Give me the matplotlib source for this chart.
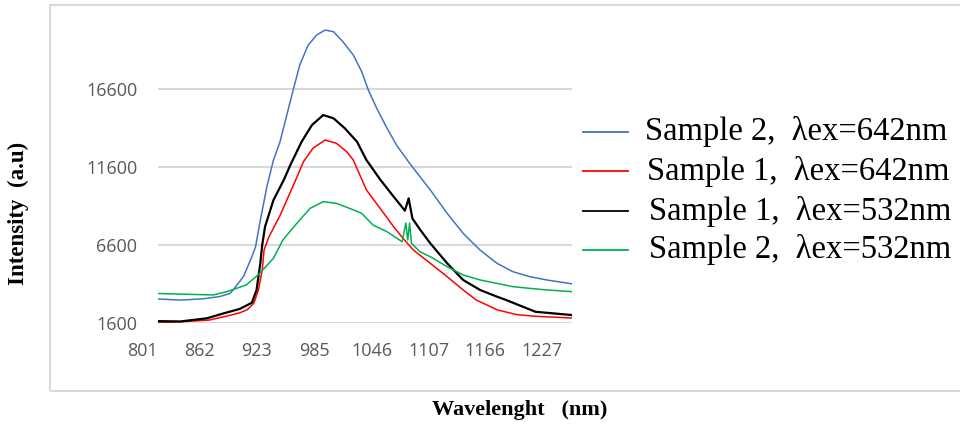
import matplotlib
matplotlib.use("Agg")
import matplotlib.pyplot as plt
from matplotlib.lines import Line2D

# ---- data ----
blue_nm = [818, 842, 866, 884, 895, 909, 918, 922, 927, 934, 941, 948, 957, 962, 969, 978, 987,
           996, 1005, 1015, 1026, 1035, 1042, 1051, 1062, 1072, 1086, 1108, 1126, 1143, 1161,
           1179, 1196, 1214, 1232, 1259]
blue_int = [3140, 3070, 3150, 3300, 3500, 4570, 5850, 6500, 8200, 10340, 12050, 13220, 15360,
            16540, 18140, 19420, 20060, 20380, 20270, 19630, 18780, 17710, 16540, 15360, 14080,
            13010, 11840, 10130, 8630, 7350, 6280, 5430, 4890, 4570, 4360, 4110]

red_nm = [818, 842, 873, 895, 905, 913, 920, 925, 929, 931, 936, 948, 962, 973, 983, 996, 1008,
          1019, 1026, 1040, 1054, 1069, 1079, 1090, 1108, 1126, 1143, 1157, 1180, 1200, 1220, 1259]
red_int = [1620, 1680, 1790, 2100, 2250, 2450, 2860, 3720, 4990, 6280, 7100, 8500, 10400, 11940,
           12800, 13330, 13120, 12580, 12050, 10130, 9000, 7770, 7030, 6280, 5430, 4570, 3720,
           3070, 2430, 2140, 2030, 1920]

black_nm = [818, 842, 870, 888, 905, 918, 923, 927, 929, 932, 941, 952, 959, 971, 982, 994, 1005,
            1017, 1030, 1040, 1055, 1069, 1081, 1085, 1089, 1097, 1108, 1126, 1143, 1161, 1179,
            1189, 1220, 1259]
black_int = [1720, 1700, 1900, 2220, 2500, 2900, 3720, 5430, 6600, 7770, 9480, 10770, 11730,
             13220, 14290, 14930, 14720, 14080, 13220, 12050, 10770, 9700, 8800, 9590, 8300, 7600,
             6710, 5430, 4360, 3720, 3290, 3070, 2320, 2110]

green_nm = [818, 842, 877, 891, 912, 925, 941, 951, 966, 980, 994, 1008, 1022, 1035, 1047, 1062,
            1078, 1082, 1084, 1086, 1088, 1097, 1108, 1126, 1143, 1161, 1179, 1196, 1214, 1232, 1259]
green_int = [3490, 3450, 3400, 3600, 4040, 4700, 5750, 6920, 8000, 8950, 9380, 9270, 8950, 8630,
             7880, 7450, 6810, 8000, 6920, 8000, 6710, 6170, 5850, 5210, 4680, 4360, 4140, 3930,
             3820, 3720, 3610]

x_tick_labels = [801, 862, 923, 985, 1046, 1107, 1166, 1227]
y_ticks = [1600, 6600, 11600, 16600]

series_labels = ["Sample 2,  \u03bbex=642nm", "Sample 1,  \u03bbex=642nm",
                 "Sample 1,  \u03bbex=532nm", "Sample 2,  \u03bbex=532nm"]
series_colors = ["#4472C4", "#FF0000", "#000000", "#00B050"]

# ---- figure ----
W, H = 960, 432
fig = plt.figure(figsize=(9.6, 4.32), dpi=100)

# outer chart frame
fig.add_artist(plt.Rectangle((50 / W, 1 - 391 / H), 1.2, (391 - 5) / H,
                             transform=fig.transFigure, fill=False,
                             edgecolor="#d9d9d9", linewidth=1.5))

ax = fig.add_axes([158 / W, 1 - 323 / H, (572 - 158) / W, (323 - 11) / H])
ax.set_xlim(818, 1259)
ax.set_ylim(1600, 21600)

lw = [1.1, 1.1, 1.6, 1.1]
data = [(blue_nm, blue_int), (red_nm, red_int), (black_nm, black_int), (green_nm, green_int)]
for (xs, ys), c, w in zip(data, series_colors, lw):
    ax.plot(xs, ys, color=c, linewidth=w, zorder=3)

for s in ax.spines.values():
    s.set_visible(False)
ax.set_yticks(y_ticks)
ax.set_yticklabels([str(v) for v in y_ticks])
ax.yaxis.grid(True, color="#d9d9d9", linewidth=1.5)
ax.set_axisbelow(True)
ax.tick_params(axis="y", length=0, pad=15, labelsize=13, labelcolor="#595959")
for t in ax.get_yticklabels():
    t.set_fontfamily("Open Sans")
ax.set_xticks([])

for v in x_tick_labels:
    ax.annotate(str(v), xy=(v, 0), xycoords=("data", "axes fraction"),
                xytext=(0, -20), textcoords="offset points",
                ha="center", va="center", fontsize=13, color="#595959",
                family="Open Sans", annotation_clip=False)

# axis titles
fig.text(18 / W, 1 - 213 / H, "Intensity  (a.u)", rotation=90, ha="center", va="center",
         fontsize=16.5, fontweight="bold", family="Liberation Serif")
fig.text(520 / W, 1 - 410 / H, "Wavelenght   (nm)", ha="center", va="center",
         fontsize=16, fontweight="bold", family="Liberation Serif")

# legend
line_y = [132, 171, 211, 250]
base_y = [140, 180, 220, 258]
text_x = [645, 647, 649, 649]
for lab, c, ly, by, tx in zip(series_labels, series_colors, line_y, base_y, text_x):
    fig.add_artist(Line2D([583 / W, 628 / W], [1 - ly / H, 1 - ly / H],
                          transform=fig.transFigure, color=c, linewidth=1.3))
    fig.text(tx / W, 1 - by / H, lab, ha="left", va="baseline",
             fontsize=23.5, family="Liberation Serif")

fig.savefig("out.png", dpi=100)
